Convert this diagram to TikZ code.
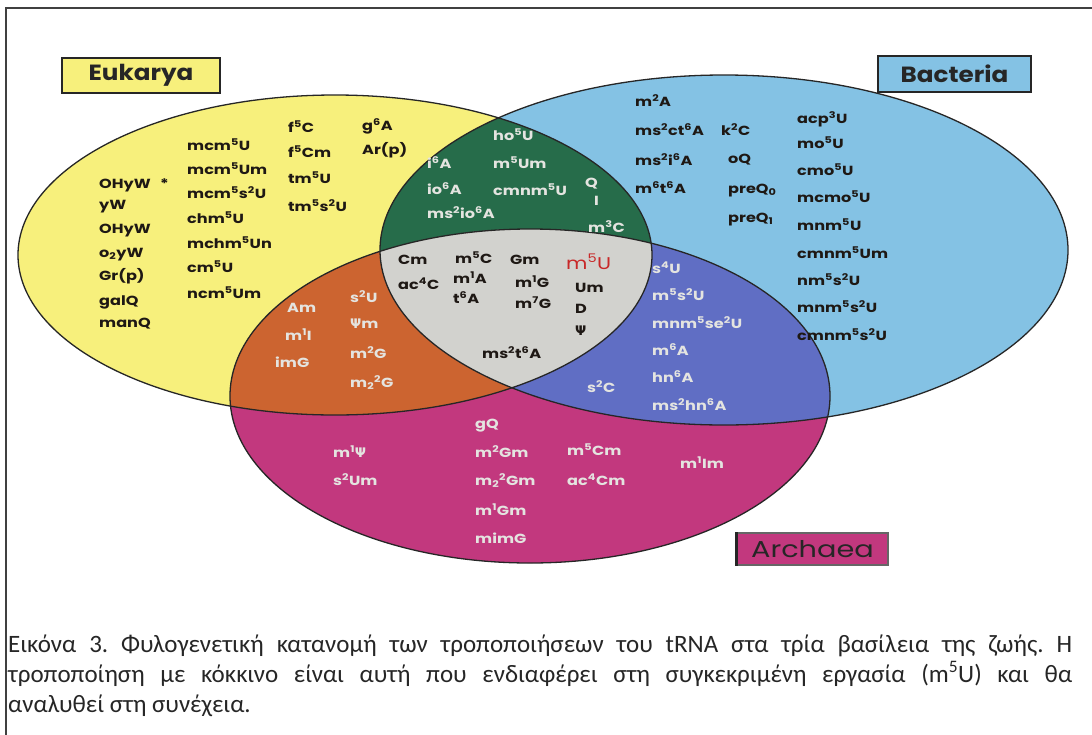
\documentclass[tikz,border=0pt]{standalone}
\usepackage{fontspec}
\setmainfont{Carlito}
\newfontfamily\labfont{Poppins}[FakeStretch=1.22]
\newfontfamily\titfont{Poppins}[FakeStretch=1.12]
\newfontfamily\arcfont{Poppins}[FakeStretch=1.25]
\newfontfamily\grkfont{DejaVu Sans}
\definecolor{yel}{RGB}{247,240,124}
\definecolor{blu}{RGB}{132,194,228}
\definecolor{grn}{RGB}{38,108,74}
\definecolor{org}{RGB}{204,100,48}
\definecolor{pnk}{RGB}{194,56,126}
\definecolor{ind}{RGB}{96,110,196}
\definecolor{gry}{RGB}{210,210,206}
\definecolor{redt}{RGB}{200,40,40}
\definecolor{lightt}{RGB}{228,228,224}
\definecolor{darkt}{RGB}{30,24,20}
\newcommand\su[1]{\textsuperscript{#1}}
\newcommand\sbs[1]{\textsubscript{#1}}
\newcommand\psy{{\grkfont\bfseries Ψ}}
\frenchspacing
\tikzset{
  lab/.style={font=\labfont\bfseries\fontsize{13.2}{15}\selectfont, inner sep=0pt, anchor=base west},
  dk/.style={lab, text=darkt},
  lt/.style={lab, text=lightt},
  title/.style={draw=black!85, line width=1.4pt, inner sep=0pt, font=\titfont\bfseries\fontsize{22}{24}\selectfont, text=black!85},
  ell/.style={draw=black!85, line width=1.3pt},
  capline/.style={inner sep=0pt, anchor=base west, font=\fontsize{25}{29}\selectfont\frenchspacing, text=black!85}
}
\newcommand\tl[5]{\node[#1] (#2) at (#3,#4) {#5};}
\begin{document}
\begin{tikzpicture}[x=1pt,y=-1pt]
\useasboundingbox (0,0) rectangle (1092,734);
\fill[white] (0,0) rectangle (1092,734);
% frame
\draw[black!75, line width=1.6pt] (6,740) -- (6,8) -- (1100,8);
% ellipses
\fill[yel] (335,255) ellipse [x radius=317pt, y radius=160pt];
\fill[blu] (724,250) ellipse [x radius=344pt, y radius=175pt];
\fill[pnk] (530,396) ellipse [x radius=300pt, y radius=167pt];
\begin{scope}
  \clip (335,255) ellipse [x radius=317pt, y radius=160pt];
  \fill[grn] (724,250) ellipse [x radius=344pt, y radius=175pt];
  \fill[org] (530,396) ellipse [x radius=300pt, y radius=167pt];
\end{scope}
\begin{scope}
  \clip (724,250) ellipse [x radius=344pt, y radius=175pt];
  \fill[ind] (530,396) ellipse [x radius=300pt, y radius=167pt];
\end{scope}
\begin{scope}
  \clip (335,255) ellipse [x radius=317pt, y radius=160pt];
  \clip (724,250) ellipse [x radius=344pt, y radius=175pt];
  \fill[gry] (530,396) ellipse [x radius=300pt, y radius=167pt];
\end{scope}
\draw[ell] (335,255) ellipse [x radius=317pt, y radius=160pt];
\draw[ell] (724,250) ellipse [x radius=344pt, y radius=175pt];
\draw[ell] (530,396) ellipse [x radius=300pt, y radius=167pt];
% titles
\node[title, fill=yel, minimum width=158pt, minimum height=35pt] (euk) at (141,75.5) {Eukarya};
\node[title, fill=blu, minimum width=153pt, minimum height=36pt] (bac) at (954.5,74) {Bacteria};
\node[title, fill=pnk, draw=black!60, font=\arcfont\fontsize{23}{25}\selectfont, minimum width=151pt, minimum height=32pt] (arc) at (812.5,549) {Archaea};
\draw[black!85, line width=3pt] (arc.north west) -- (arc.south west);
% Eukarya only
\tl{dk}{e1}{99}{188}{OHyW}
\tl{dk}{e1s}{160}{188}{*}
\tl{dk}{e2}{99}{209}{yW}
\tl{dk}{e3}{99}{233}{OHyW}
\tl{dk}{e4}{99}{257}{o\sbs{2}yW}
\tl{dk}{e5}{99}{280}{Gr(p)}
\tl{dk}{e6}{99}{305}{galQ}
\tl{dk}{e7}{99}{327}{manQ}
\tl{dk}{e8}{187}{150}{mcm\su{5}U}
\tl{dk}{e9}{187}{174}{mcm\su{5}Um}
\tl{dk}{e10}{187}{198}{mcm\su{5}s\su{2}U}
\tl{dk}{e11}{187}{223}{chm\su{5}U}
\tl{dk}{e12}{187}{248}{mchm\su{5}Un}
\tl{dk}{e13}{187}{272}{cm\su{5}U}
\tl{dk}{e14}{187}{298}{ncm\su{5}Um}
\tl{dk}{e15}{288}{132}{f\su{5}C}
\tl{dk}{e16}{288}{157}{f\su{5}Cm}
\tl{dk}{e17}{288}{183}{tm\su{5}U}
\tl{dk}{e18}{288}{211}{tm\su{5}s\su{2}U}
\tl{dk}{e19}{362}{130}{g\su{6}A}
\tl{dk}{e20}{362}{154}{Ar(p)}
% Eukarya + Bacteria (green)
\tl{lt}{g1}{493}{140}{ho\su{5}U}
\tl{lt}{g2}{493}{168}{m\su{5}Um}
\tl{lt}{g3}{493}{195}{cmnm\su{5}U}
\tl{lt}{g4}{427}{168}{i\su{6}A}
\tl{lt}{g5}{427}{194}{io\su{6}A}
\tl{lt}{g6}{427}{218}{ms\su{2}io\su{6}A}
\tl{lt}{g7}{585}{187}{Q}
\tl{lt}{g8}{594}{205}{I}
\tl{lt}{g9}{588}{232}{m\su{3}C}
% all three (grey)
\tl{dk}{c1}{398}{264}{Cm}
\tl{dk}{c2}{398}{289}{ac\su{4}C}
\tl{dk}{c3}{455}{263}{m\su{5}C}
\tl{dk}{c4}{453}{283}{m\su{1}A}
\tl{dk}{c5}{453}{303}{t\su{6}A}
\tl{dk}{c6}{510}{264}{Gm}
\tl{dk}{c7}{515}{287}{m\su{1}G}
\tl{dk}{c8}{515}{308}{m\su{7}G}
\node[lab, font=\labfont\fontsize{17}{18}\selectfont, text=redt] (c9) at (566,269) {m\su{5}U};
\tl{dk}{c10}{575}{292}{Um}
\tl{dk}{c11}{575}{313}{D}
\tl{dk}{c12}{575}{335}{\psy}
\tl{dk}{c13}{482}{358}{ms\su{2}t\su{6}A}
% Eukarya + Archaea (orange)
\tl{lt}{o1}{287}{312}{Am}
\tl{lt}{o2}{285}{340}{m\su{1}I}
\tl{lt}{o3}{275}{367}{imG}
\tl{lt}{o4}{350}{302}{s\su{2}U}
\tl{lt}{o5}{350}{328}{\psy m}
\tl{lt}{o6}{350}{358}{m\su{2}G}
\tl{lt}{o7}{350}{387}{m\sbs{2}\su{2}G}
% Bacteria + Archaea (indigo)
\tl{lt}{i1}{587}{392}{s\su{2}C}
\tl{lt}{i2}{652}{273}{s\su{4}U}
\tl{lt}{i3}{652}{300}{m\su{5}s\su{2}U}
\tl{lt}{i4}{652}{328}{mnm\su{5}se\su{2}U}
\tl{lt}{i5}{652}{355}{m\su{6}A}
\tl{lt}{i6}{652}{382}{hn\su{6}A}
\tl{lt}{i7}{652}{410}{ms\su{2}hn\su{6}A}
% Bacteria only
\tl{dk}{b1}{635}{106}{m\su{2}A}
\tl{dk}{b2}{635}{135}{ms\su{2}ct\su{6}A}
\tl{dk}{b3}{635}{165}{ms\su{2}i\su{6}A}
\tl{dk}{b4}{635}{193}{m\su{6}t\su{6}A}
\tl{dk}{b5}{721}{135}{k\su{2}C}
\tl{dk}{b6}{728}{163}{oQ}
\tl{dk}{b7}{728}{193}{preQ\sbs{0}}
\tl{dk}{b8}{728}{222}{preQ\sbs{1}}
\tl{dk}{b9}{797}{123}{acp\su{3}U}
\tl{dk}{b10}{797}{148}{mo\su{5}U}
\tl{dk}{b11}{797}{175}{cmo\su{5}U}
\tl{dk}{b12}{797}{202}{mcmo\su{5}U}
\tl{dk}{b13}{797}{230}{mnm\su{5}U}
\tl{dk}{b14}{797}{258}{cmnm\su{5}Um}
\tl{dk}{b15}{797}{285}{nm\su{5}s\su{2}U}
\tl{dk}{b16}{797}{312}{mnm\su{5}s\su{2}U}
\tl{dk}{b17}{797}{340}{cmnm\su{5}s\su{2}U}
% Archaea only
\tl{lt}{a1}{333}{457}{m\su{1}\psy}
\tl{lt}{a2}{333}{485}{s\su{2}Um}
\tl{lt}{a3}{475}{428}{gQ}
\tl{lt}{a4}{475}{457}{m\su{2}Gm}
\tl{lt}{a5}{475}{485}{m\sbs{2}\su{2}Gm}
\tl{lt}{a6}{475}{515}{m\su{1}Gm}
\tl{lt}{a7}{475}{543}{mimG}
\tl{lt}{a8}{567}{455}{m\su{5}Cm}
\tl{lt}{a9}{567}{485}{ac\su{4}Cm}
\tl{lt}{a10}{680}{468}{m\su{1}Im}
% caption
\node[capline] (cap1) at (8,652) {\makebox[1064pt][s]{Εικόνα 3. Φυλογενετική κατανομή των τροποποιήσεων του tRNA στα τρία βασίλεια της ζωής. Η}};
\node[capline] (cap2) at (8,682) {\makebox[1064pt][s]{τροποποίηση με κόκκινο είναι αυτή που ενδιαφέρει στη συγκεκριμένη εργασία (m\textsuperscript{5}U) και θα}};
\node[capline] (cap3) at (8,712) {αναλυθεί στη συνέχεια.};
\end{tikzpicture}
\end{document}
